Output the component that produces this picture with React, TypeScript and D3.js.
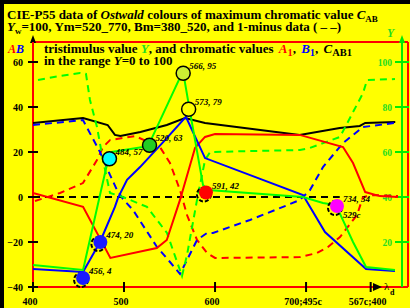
import React from 'react'
import * as d3 from 'd3'

// x axis: 400..700 nm, then compensatory wavelengths
const xTicks = [400, 500, 600, 700, 771]
const xTickLabels = ['400', '500', '600', '700;495c', '567c;400']
const abTicks = [-40, -20, 0, 20, 40, 60]
const yTicks = [20, 40, 60, 80, 100]

// chromatic value C_AB (solid black)
const cabX = [400, 455, 482, 490, 496, 518, 547, 567, 589, 693, 737, 759, 765, 798]
const cabV = [32.9, 35.1, 32, 27.6, 27.1, 28.9, 32, 35.1, 32.9, 27.6, 30.7, 31.6, 32.9, 33.3]

// A (solid red)
const aX = [400, 455, 485, 536, 547, 561.5, 578, 589, 600, 693, 740.6, 751.6, 765, 781, 801]
const aV = [1.8, -4.4, -27.1, -22.7, -19.1, -1.3, 21.8, 26.7, 28, 27.6, 22.2, 15.1, 2.2, 0.4, 0]

// B (solid blue)
const bX = [400, 455, 473.6, 490, 493.4, 503.3, 517.6, 545, 568, 589, 696.6, 720.8, 765.9, 797.7]
const bV = [-32, -33.3, -20, -4.4, -0.4, 7.6, 13.3, 25.3, 35.6, 17.3, 0.9, -15.6, -32, -32.9]

// Y (solid green, left-axis units)
const gX = [400, 455, 473.6, 482.4, 486.8, 520.8, 528.5, 564.8, 571.4, 586.8, 592.3, 696.6, 718.6, 732.9, 751.6, 765.9, 797.7]
const gV = [-30.2, -32.4, 0.9, 16.4, 20, 22.2, 24.4, 56, 40.4, 5.3, 3.1, 0, -2.7, -3.6, -20, -31.1, -32.4]

// 1-minus data (dashed)
const gdX = [405.5, 429.7, 451.6, 458.2, 462.6, 470.3, 476.9, 484.6, 498.9, 525.2, 547.2, 563.7, 569.2, 580.2, 589, 594.5, 693.3, 704.3, 737.3, 762.6, 767, 797.7]
const gdV = [52, 53.8, 55.1, 54.7, 43.1, 31.1, 16.4, 1.8, 0, -4.4, -16, -35.1, -25.8, -1.3, 16.4, 20, 20.9, 21.8, 26.7, 46.2, 52, 52.4]
const adX = [402.2, 429.7, 454.9, 470.3, 476.9, 484.6, 512.1, 539.5, 550.5, 561.5, 569.2, 580.2, 591.2, 600, 693.3, 712, 724.1, 737.3, 756, 762.6, 773.6, 801]
const adV = [-1.8, 1.8, 6.2, 16.4, 22.2, 25.3, 27.1, 22.2, 15.1, 3.1, -8, -19.1, -24.9, -27.1, -26.7, -24.9, -22.2, -17.8, -8, 0, 0.9, 0.4]
const bdX = [400, 454.9, 473.6, 484.6, 492.3, 498.9, 509.9, 536.2, 550.5, 561.5, 569.2, 580.2, 591.2, 597.8, 638.4, 674.7, 693.3, 704.3, 718.6, 740.6, 762.6, 797.7]
const bdV = [32, 34.2, 20, 9.8, 3.1, -0.9, -5.8, -22.2, -28.9, -34.2, -28, -19.1, -16, -16, -10.2, -4.4, -1.3, 3.1, 13.3, 24, 31.1, 32.9]
const zeroX = [400, 737]
const zeroV = [0, 0]

// Ostwald colour markers: wavelength, Y
const mkX = [455, 474, 484, 528, 565, 571, 590, 734]
const mkY = [4, 20, 57, 63, 95, 79, 42, 36]
const mkLabel = ['456, 4', '474, 20', '484, 57', '520, 63', '566, 95', '573, 79', '591, 42', '734, 34']
const mkFill = ['#1a1aff', '#1a1aff', '#00ffff', '#22cc22', '#ccf033', '#ffff00', '#ff0000', '#ff00ff']
const mkShadow = [true, true, false, false, false, false, true, true]

const F = 'Liberation Serif, Times New Roman, serif'

export default function App() {
  const x = d3.scaleLinear().domain([400, 812]).range([33, 408])
  const y = d3.scaleLinear().domain([-40, 60]).range([287, 62])
  const yR = d3.scaleLinear().domain([0, 100]).range([287, 62])

  const path = (xs: number[], vs: number[]) =>
    d3.line<number>().x((d, i) => x(xs[i])).y(d => y(d))(vs) || ''

  const curves = [
    { d: path(zeroX, zeroV), c: '#000', dash: '7,5' },
    { d: path(cabX, cabV), c: '#000', dash: null },
    { d: path(adX, adV), c: '#ff0000', dash: '7,5' },
    { d: path(bdX, bdV), c: '#0000ff', dash: '7,5' },
    { d: path(gdX, gdV), c: '#00ff00', dash: '7,5' },
    { d: path(aX, aV), c: '#ff0000', dash: null },
    { d: path(bX, bV), c: '#0000ff', dash: null },
    { d: path(gX, gV), c: '#00ff00', dash: null },
  ]

  return (
    <svg width={413} height={308} style={{ position: 'absolute', left: 0, top: 0 }} fontFamily={F} fontWeight="bold">
      <rect x={0} y={0} width={410} height={308} fill="#000" />
      <rect x={4} y={4} width={406} height={304} fill="#ffff00" />

      <text x={7} y={19} fontSize={13}>
        CIE-P55 data of <tspan fontStyle="italic">Ostwald</tspan> colours of maximum chromatic value <tspan fontStyle="italic">C</tspan>
        <tspan fontSize={9} dy={3}>AB</tspan>
      </text>
      <text x={7} y={31} fontSize={13}>
        <tspan fontStyle="italic">Y</tspan><tspan fontSize={9} dy={3}>w</tspan><tspan dy={-3}>=100, Ym=520_770, Bm=380_520, and 1-minus data ( –  –)</tspan>
      </text>

      {/* frame */}
      <g stroke="#ff0000" strokeWidth={2} fill="none">
        <line x1={33} y1={42} x2={408} y2={42} />
        <line x1={408} y1={42} x2={408} y2={287} />
        <line x1={33} y1={287} x2={408} y2={287} />
      </g>
      {/* left black axis */}
      <line x1={33} y1={287} x2={33} y2={40} stroke="#000" strokeWidth={2} />
      <path d="M33,35 L30,43 L36,43 Z" fill="#000" />
      <line x1={33} y1={287} x2={33} y2={42} stroke="#ff0000" strokeWidth={2} />
      {/* right green axis */}
      <line x1={402} y1={287} x2={402} y2={40} stroke="#00ee00" strokeWidth={2} />
      <path d="M402,35 L399,43 L405,43 Z" fill="#00ee00" />
      {/* x arrow */}
      <path d="M382,287 L373,283 L373,291 Z" fill="#000" />
      <text x={384} y={290} fontSize={11} fontWeight="normal">λ</text>
      <text x={390} y={295} fontSize={8}>d</text>

      {abTicks.map(t => (
        <g key={t}>
          <line x1={28} x2={38} y1={y(t)} y2={y(t)} stroke="#000" strokeWidth={2} />
          <text x={23} y={y(t) + 3.5} fontSize={10} textAnchor="end">{t < 0 ? '\u2212' + (-t) : t}</text>
        </g>
      ))}
      {yTicks.map(t => (
        <g key={t}>
          <line x1={395} x2={409} y1={yR(t)} y2={yR(t)} stroke="#00ee00" strokeWidth={2} />
          <text x={392} y={yR(t) + 3.5} fontSize={9.5} textAnchor="end" fill="#22dd22">{t}</text>
        </g>
      ))}
      {xTicks.map((t, i) => (
        <g key={t}>
          <line x1={x(t)} x2={x(t)} y1={282} y2={292} stroke="#000" strokeWidth={2} />
          <text x={x(t) - 3} y={305} fontSize={10} textAnchor="middle">{xTickLabels[i]}</text>
        </g>
      ))}

      <text x={8} y={53} fontSize={12} fontStyle="italic">
        <tspan fill="#ff0000">A</tspan><tspan fill="#0000ff">B</tspan>
      </text>
      <text x={387} y={37} fontSize={11.5} fontStyle="italic" fill="#22dd22">Y</text>

      <text x={44} y={53} fontSize={13}>
        tristimulus value <tspan fill="#22dd22" fontStyle="italic">Y</tspan>, and chromatic values <tspan dx={2} fill="#ff0000" fontStyle="italic">A</tspan>
        <tspan fill="#ff0000" fontSize={10.5} dy={3}>1</tspan><tspan dy={-3}>, </tspan>
        <tspan dx={2} fill="#0000ff" fontStyle="italic">B</tspan><tspan fill="#0000ff" fontSize={10.5} dy={3}>1</tspan><tspan dy={-3}>, </tspan>
        <tspan dx={2} fontStyle="italic">C</tspan><tspan fontSize={10.5} dy={3}>AB1</tspan>
      </text>
      <text x={44} y={65} fontSize={13}>
        in the range <tspan fontStyle="italic">Y</tspan>=0 to 100
      </text>

      {curves.map((c, i) => (
        <path key={i} d={c.d} fill="none" stroke={c.c} strokeWidth={2} strokeDasharray={c.dash || undefined} />
      ))}

      {mkX.map((m, i) => (
        <g key={i}>
          {mkShadow[i] && (
            <circle cx={x(m) - 2} cy={yR(mkY[i]) + 2} r={7} fill="none" stroke="#000" strokeWidth={2} strokeDasharray="4,2" />
          )}
          <circle cx={x(m)} cy={yR(mkY[i])} r={7} fill={mkFill[i]} stroke={mkShadow[i] ? 'none' : '#000'} strokeWidth={1.5} />
          <text x={x(m) + 6} y={yR(mkY[i]) - 4} fontSize={9} fontStyle="italic">{mkLabel[i]}</text>
        </g>
      ))}
      <text x={x(734) + 6} y={yR(36) + 12} fontSize={9} fontStyle="italic">529c</text>

      <rect x={410} y={0} width={3} height={308} fill="#fff" />
    </svg>
  )
}
